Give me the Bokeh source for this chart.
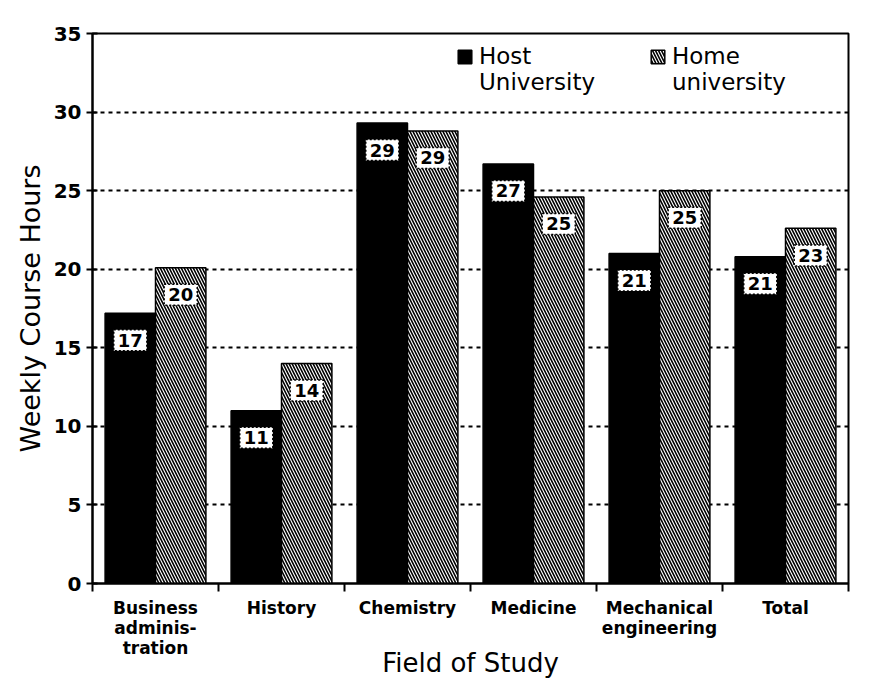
import numpy as np
from bokeh.plotting import figure
from bokeh.models import (ColumnDataSource, Range1d, FixedTicker,
                          Legend, LegendItem, BoxAnnotation)
from bokeh.transform import dodge
from bokeh.core.properties import value
from bokeh.embed import file_html
from bokeh.resources import INLINE

# ---- data ----
fields = ["Business\nadminis-\ntration", "History", "Chemistry", "Medicine",
          "Mechanical\nengineering", "Total"]
host = [17.2, 11.0, 29.3, 26.7, 21.0, 20.8]
home = [20.1, 14.0, 28.8, 24.6, 25.0, 22.6]
y_ticks = [0, 5, 10, 15, 20, 25, 30, 35]
grid_ticks = [5, 10, 15, 20, 25, 30]
legend_top = ["Host", "Home"]
legend_bottom = ["University", "university"]

xc = np.arange(len(fields)) + 0.5
src = ColumnDataSource(dict(
    x=xc, host=host, home=home,
    host_lbl=[str(int(round(v))) for v in host],
    home_lbl=[str(int(round(v))) for v in home],
))

FONT = "DejaVu Sans"

p = figure(width=875, height=684, x_range=Range1d(0, len(fields)),
           y_range=Range1d(0, 35), output_backend="svg", toolbar_location=None,
           min_border_left=92, min_border_right=27, min_border_top=33,
           min_border_bottom=101, background_fill_color="white",
           border_fill_color="white")

r1 = p.vbar(x=dodge("x", -0.2, range=p.x_range), top="host", width=0.4,
            source=src, fill_color="black", line_color="black", line_width=1.5)
r2 = p.vbar(x=dodge("x", 0.2, range=p.x_range), top="home", width=0.4,
            source=src, fill_color="white", line_color="black", line_width=1.5,
            hatch_pattern="\\", hatch_color="black", hatch_scale=6,
            hatch_weight=1.6)
r_blank = p.vbar(x=[], top=[], width=0.4, fill_alpha=0, line_alpha=0)

# value labels in white boxes, a little below each bar top
for col, lab, off in (("host", "host_lbl", -0.2), ("home", "home_lbl", 0.2)):
    p.text(x=dodge("x", off, range=p.x_range),
           y=dodge(col, -1.72, range=p.y_range), text=lab, source=src,
           text_align="center", text_baseline="middle",
           text_font=value(FONT), text_font_size="18px",
           text_font_style="bold", text_color="black",
           background_fill_color="white", border_line_color="black",
           border_line_dash="2 2", border_line_width=1.5, padding=4)

# grid
p.xgrid.visible = False
p.ygrid.ticker = FixedTicker(ticks=grid_ticks)
p.ygrid.grid_line_color = "black"
p.ygrid.grid_line_dash = "4 4"
p.ygrid.grid_line_width = 2

# y axis
p.yaxis.ticker = FixedTicker(ticks=y_ticks)
p.yaxis.major_tick_in = 5
p.yaxis.major_tick_out = 6
p.yaxis.minor_tick_line_color = None
p.yaxis.axis_label = "Weekly Course Hours"

# x axis
p.xaxis.ticker = FixedTicker(ticks=list(xc), minor_ticks=list(range(len(fields) + 1)))
p.xaxis.major_tick_line_color = None
p.xaxis.minor_tick_in = 0
p.xaxis.minor_tick_out = 8
p.xaxis.minor_tick_line_width = 2
p.xaxis.major_label_overrides = {float(x): f for x, f in zip(xc, fields)}
p.xaxis.axis_label = "Field of Study"
p.xaxis.axis_label_standoff = -13
p.xaxis.major_label_standoff = 6
p.xaxis.major_label_text_line_height = 1.0

for ax in (p.xaxis[0], p.yaxis[0]):
    ax.axis_line_width = 2
    ax.major_tick_line_width = 2
    ax.major_label_text_font = FONT
    ax.major_label_text_font_style = "bold"
    ax.axis_label_text_font = FONT
    ax.axis_label_text_font_style = "normal"
    ax.axis_label_text_color = "black"
    ax.major_label_text_color = "black"
    ax.axis_line_color = "black"
p.xaxis.major_label_text_font_size = "17px"
p.yaxis.major_label_text_font_size = "20px"
p.xaxis.axis_label_text_font_size = "26px"
p.yaxis.axis_label_text_font_size = "27px"

p.outline_line_color = "black"
p.outline_line_width = 2
p.outline_line_alpha = 1

legend = Legend(items=[LegendItem(label=legend_top[0], renderers=[r1]),
                       LegendItem(label=legend_top[1], renderers=[r2]),
                       LegendItem(label=legend_bottom[0], renderers=[r_blank]),
                       LegendItem(label=legend_bottom[1], renderers=[r_blank])],
                orientation="horizontal", ncols=2, location=(364, 488),
                label_text_font=FONT, label_text_font_size="23px",
                label_text_color="black", label_width=170,
                glyph_width=17, glyph_height=17, label_standoff=6, spacing=0,
                padding=0, margin=0, border_line_color=None,
                background_fill_alpha=0)
p.add_layout(legend)

# page frame around the whole sheet (top and right solid, left broken)
p.add_layout(BoxAnnotation(left=-50, right=871, top=3, bottom=2000,
                           left_units="canvas", right_units="canvas",
                           top_units="canvas", bottom_units="canvas",
                           fill_alpha=0, line_color="black", line_width=2,
                           level="overlay"))
p.add_layout(BoxAnnotation(left=5, right=2000, top=-50, bottom=2000,
                           left_units="canvas", right_units="canvas",
                           top_units="canvas", bottom_units="canvas",
                           fill_alpha=0, line_color="black", line_width=1,
                           line_dash="10 14", level="overlay"))

open("out.html", "w").write(file_html(p, INLINE))
